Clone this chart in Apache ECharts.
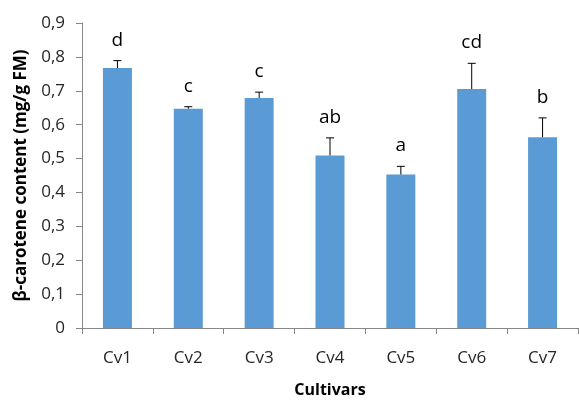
<!DOCTYPE html>
<html><head><meta charset="utf-8">
<script src="https://cdn.jsdelivr.net/npm/echarts@6/dist/echarts.min.js"></script>
<style>html,body{margin:0;padding:0;background:#fff}#c{width:579px;height:403px}</style>
</head><body><div id="c"></div>
<script>
var categories = ['Cv1','Cv2','Cv3','Cv4','Cv5','Cv6','Cv7'];
var values = [0.767, 0.647, 0.679, 0.509, 0.453, 0.705, 0.563];
var errors = [0.022, 0.006, 0.017, 0.052, 0.024, 0.076, 0.057];
var letters = ['d','c','c','ab','a','cd','b'];
var yTicks = [0,0.1,0.2,0.3,0.4,0.5,0.6,0.7,0.8,0.9];

var FONT = '"Open Sans", "Noto Sans", sans-serif';
var chart = echarts.init(document.getElementById('c'));
var errData = categories.map(function(c,i){return [i, values[i], values[i]+errors[i], letters[i]];});
chart.setOption({
  animation:false,
  grid:{left:82,right:1,top:23,bottom:74},
  xAxis:{type:'category',data:categories,
    axisLine:{lineStyle:{color:'#868686',width:1}},
    axisTick:{show:true,length:6,lineStyle:{color:'#868686'}},
    axisLabel:{color:'#262626',fontSize:17,fontFamily:FONT,margin:22},
    name:'Cultivars',nameLocation:'middle',nameGap:54,
    nameTextStyle:{fontWeight:'bold',fontSize:16,color:'#000',fontFamily:FONT}},
  yAxis:{type:'value',min:0,max:0.9,interval:0.1,
    axisLine:{show:true,lineStyle:{color:'#868686',width:1}},
    axisTick:{show:true,length:6,lineStyle:{color:'#868686'}},
    splitLine:{show:false},
    axisLabel:{color:'#262626',fontSize:17,fontFamily:FONT,margin:17,
      formatter:function(v){return v===0?'0':v.toFixed(1).replace('.',',');}},
    name:'β-carotene content (mg/g FM)',nameLocation:'middle',nameGap:52,
    nameTextStyle:{fontWeight:'bold',fontSize:17,color:'#000',fontFamily:FONT}},
  series:[
    {type:'bar',data:values,barWidth:29,itemStyle:{color:'#5B9BD5'}},
    {type:'custom',data:errData,z:10,
      renderItem:function(params,api){
        var x=api.coord([api.value(0),api.value(1)]);
        var t=api.coord([api.value(0),api.value(2)]);
        var w=4;
        return {type:'group',children:[
          {type:'line',shape:{x1:x[0],y1:x[1],x2:t[0],y2:t[1]},style:{stroke:'#000',lineWidth:1}},
          {type:'line',shape:{x1:t[0]-w,y1:t[1],x2:t[0]+w,y2:t[1]},style:{stroke:'#000',lineWidth:1}},
          {type:'text',x:t[0],y:t[1]-11,style:{text:letters[params.dataIndex],fill:'#000',
            font:'19px '+FONT,align:'center',verticalAlign:'bottom'}}
        ]};
      }}
  ]
});
</script></body></html>
